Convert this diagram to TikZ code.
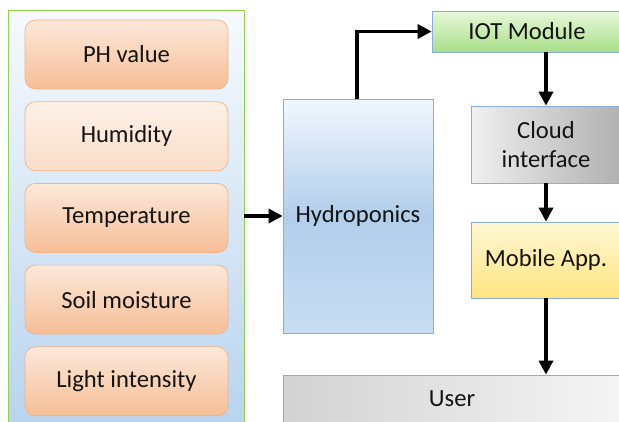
\documentclass[tikz,border=0pt]{standalone}
\usepackage{fontspec}
\setmainfont{Carlito}
\usetikzlibrary{arrows.meta, positioning}
\definecolor{sensorline}{RGB}{244, 177, 131}
\definecolor{sensortop}{RGB}{252, 232, 218}
\definecolor{sensorbot}{RGB}{246, 190, 150}
\definecolor{humidtop}{RGB}{253, 240, 230}
\definecolor{humidbot}{RGB}{250, 222, 202}
\definecolor{panelline}{RGB}{146, 208, 80}
\definecolor{paneltop}{RGB}{246, 250, 254}
\definecolor{panelbot}{RGB}{184, 211, 238}
\definecolor{blockline}{RGB}{143, 170, 220}
\definecolor{hydrotop}{RGB}{241, 247, 253}
\definecolor{hydromid}{RGB}{178, 206, 235}
\definecolor{hydrobot}{RGB}{200, 221, 242}
\definecolor{iottop}{RGB}{232, 247, 220}
\definecolor{iotbot}{RGB}{168, 223, 136}
\definecolor{apptop}{RGB}{255, 247, 212}
\definecolor{appbot}{RGB}{255, 229, 128}
\definecolor{inktext}{RGB}{20, 20, 20}

\begin{document}
\begin{tikzpicture}[
        font=\fontsize{14}{16}\selectfont, text=inktext,
        node distance=0.24cm,
        sensor/.style={rectangle, rounded corners=6pt, draw=sensorline,
                       top color=sensortop, bottom color=sensorbot,
                       minimum width=4.06cm, minimum height=1.38cm},
        block/.style={rectangle, draw=blockline, align=center},
        arrow/.style={-{Triangle[length=8pt, width=8pt]}, line width=2pt}
      ]
        \useasboundingbox (0,0) rectangle (12.38,8.42);
        \clip (0,0) rectangle (12.38,8.42);
        \node[rectangle, draw=panelline, top color=paneltop, bottom color=panelbot,
              minimum width=4.72cm, minimum height=8.4cm] (panel) at (2.52,4.02) {};
        \node[sensor] (ph) at (2.53,7.33) {PH value};
        \node[sensor, below=of ph, top color=humidtop, bottom color=humidbot] (humid) {Humidity};
        \node[sensor, below=of humid] (temp) {Temperature};
        \node[sensor, below=of temp] (soil) {Soil moisture};
        \node[sensor, below=of soil] (light) {Light intensity};
        \node[block, top color=hydrotop, bottom color=hydrobot, middle color=hydromid,
              minimum width=3.0cm, minimum height=4.68cm] (hydro) at (7.16,4.10) {Hydroponics};
        \node[block, top color=iottop, bottom color=iotbot,
              minimum width=3.8cm, minimum height=0.82cm] (iot) at (10.54,7.79) {IOT Module};
        \node[block, left color=gray!12, right color=gray!62,
              minimum width=3.0cm, minimum height=1.54cm] (cloud) at (10.92,5.53) {Cloud\\interface};
        \node[block, top color=apptop, bottom color=appbot,
              minimum width=3.0cm, minimum height=1.52cm] (app) at (10.92,3.22) {Mobile App.};
        \node[block, left color=gray!35, right color=gray!8,
              minimum width=6.76cm, minimum height=0.96cm] (user) at (9.04,0.44) {User};
        \draw[arrow] (panel.east |- hydro.west) -- (hydro.west);
        \draw[arrow] (hydro.north -| 7.14,0) |- (iot.west);
        \draw[arrow] (cloud.north |- iot.south) -- (cloud.north);
        \draw[arrow] (cloud.south) -- (app.north);
        \draw[arrow] (app.south) -- (app.south |- user.north);
      \end{tikzpicture}
\end{document}
